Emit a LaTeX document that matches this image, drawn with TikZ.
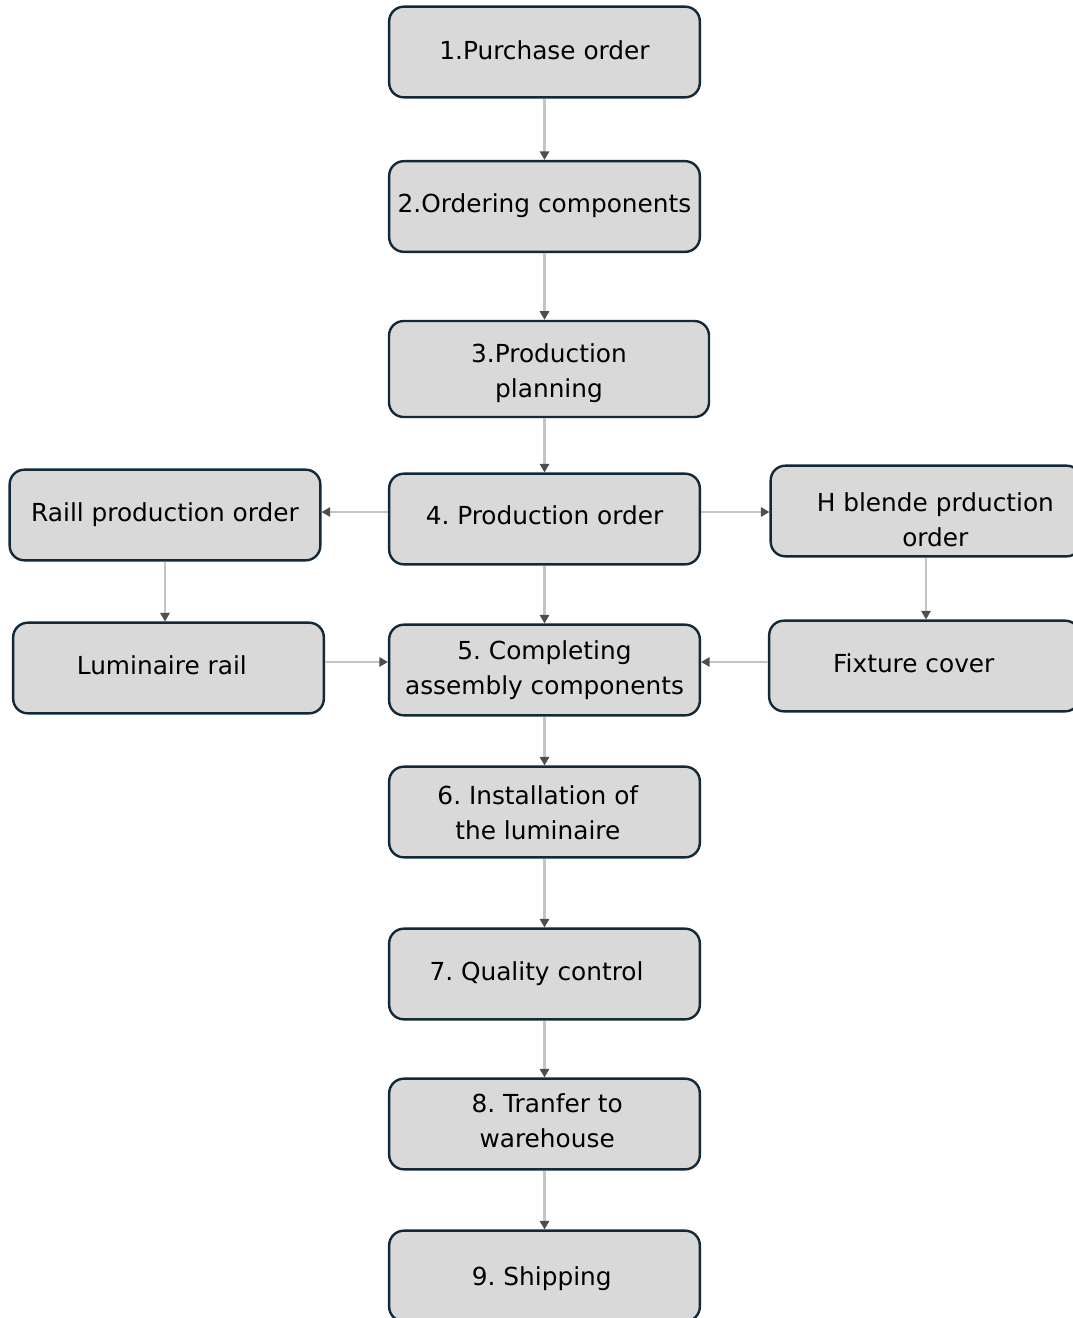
\documentclass[tikz,border=0pt]{standalone}
\usepackage{fontspec}
\setmainfont{DejaVu Sans}
\usetikzlibrary{arrows.meta}
\definecolor{boxfill}{HTML}{D9D9D9}
\definecolor{boxline}{HTML}{12293A}
\definecolor{arrline}{HTML}{C4C4C4}
\definecolor{arrtip}{HTML}{4A4F55}
\frenchspacing
\newcommand{\liftby}[2]{\raisebox{#1}[\height][\depth]{#2}}
\newcommand{\twolines}[3]{\liftby{#1}{\begin{tabular}{@{}c@{}}#2\\#3\end{tabular}}}
\begin{document}
\begin{tikzpicture}[x=0.75pt,y=-0.75pt,
  box/.style={draw=boxline, fill=boxfill, line width=1.8pt, rounded corners=11pt,
    minimum width=233pt, minimum height=68pt, align=center, inner sep=0pt,
    font=\fontsize{18.6}{26.3}\selectfont},
  arr/.style={draw=arrline, line width=1.6pt,
    -{Triangle[length=6.5pt,width=7pt,color=arrtip]}}]
\path[use as bounding box, clip] (0,0) rectangle (1073,1318);
\fill[white] (0,0) rectangle (1073,1318);
\node[box] (n1) at (544.5,52) {\liftby{1.5pt}{1.Purchase order}};
\node[box] (n2) at (544.5,206.5) {\liftby{0.5pt}{2.Ordering components}};
\node[box, minimum width=240pt, minimum height=72pt] (n3) at (549,369) {\twolines{-3pt}{3.Production}{planning}};
\node[box] (n4) at (544.5,519) {\liftby{3pt}{4. Production order}};
\node[box] (rail) at (165,515) {\liftby{0.5pt}{Raill production order}};
\node[box] (hbl) at (926,511) {\hspace*{14pt}\twolines{-8.25pt}{H blende prduction}{order}};
\node[box] (lum) at (168.5,668) {\hspace*{-10pt}\liftby{2.25pt}{Luminaire rail}};
\node[box] (n5) at (544.5,670) {\twolines{0pt}{5. Completing}{assembly components}};
\node[box] (fix) at (924.5,666) {\hspace*{-16pt}\liftby{2.25pt}{Fixture cover}};
\node[box] (n6) at (544.5,812) {\hspace*{-10pt}\twolines{-2.25pt}{6. Installation of}{the luminaire}};
\node[box] (n7) at (544.5,974) {\hspace*{-12pt}\liftby{0pt}{7. Quality control}};
\node[box] (n8) at (544.5,1124) {\hspace*{4pt}\twolines{0.75pt}{8. Tranfer to}{warehouse}};
\node[box] (n9) at (544.5,1276) {\hspace*{-4pt}\liftby{-2.25pt}{9. Shipping}};
\draw[arr] (n1.south) -- (n2.north);
\draw[arr] (n2.south) -- (n2.south |- n3.north);
\draw[arr] (n2.south |- n3.south) -- (n4.north);
\draw[arr] (n4.west |- 0,512) -- (rail.east |- 0,512);
\draw[arr] (n4.east |- 0,512) -- (hbl.west |- 0,512);
\draw[arr] (rail.south) -- (rail.south |- lum.north);
\draw[arr] (hbl.south) -- (hbl.south |- fix.north);
\draw[arr] (n4.south) -- (n5.north);
\draw[arr] (lum.east |- 0,662) -- (n5.west |- 0,662);
\draw[arr] (fix.west |- 0,662) -- (n5.east |- 0,662);
\draw[arr] (n5.south) -- (n6.north);
\draw[arr] (n6.south) -- (n7.north);
\draw[arr] (n7.south) -- (n8.north);
\draw[arr] (n8.south) -- (n9.north);
\end{tikzpicture}
\end{document}
